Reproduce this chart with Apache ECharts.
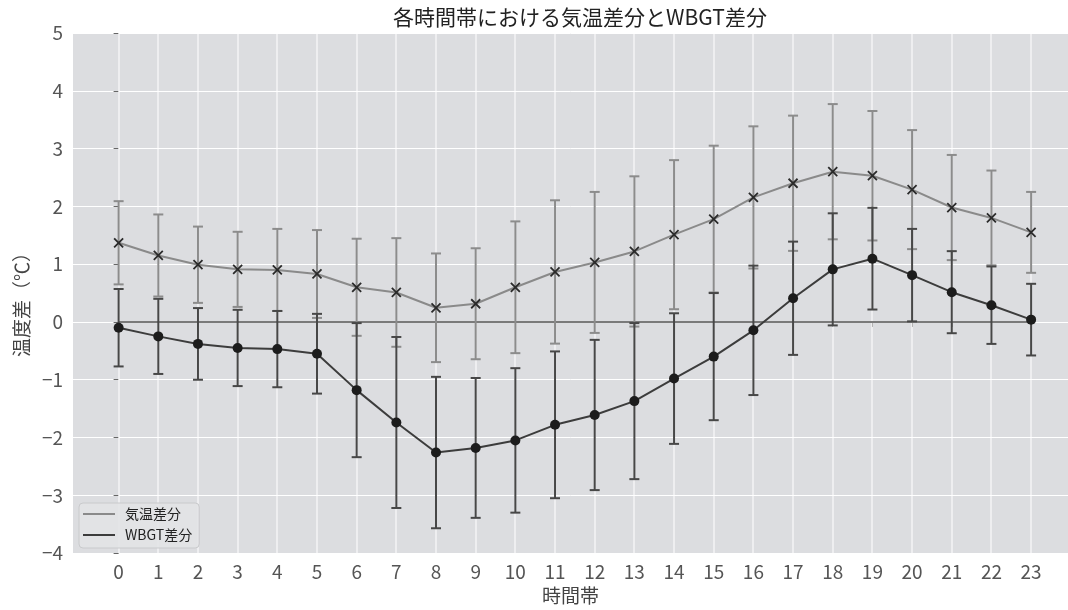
<!DOCTYPE html>
<html>
<head>
<meta charset="utf-8">
<script src="https://cdn.jsdelivr.net/npm/echarts@6/dist/echarts.min.js"></script>
<style>
  html, body { margin: 0; padding: 0; background: #ffffff; }
  #chart { width: 1068px; height: 610px; }
</style>
</head>
<body>
<div id="chart"></div>
<script>
// Hourly mean differences and their standard deviations
const hours = [0, 1, 2, 3, 4, 5, 6, 7, 8, 9, 10, 11, 12, 13, 14, 15, 16, 17, 18, 19, 20, 21, 22, 23];
const airMean = [1.37, 1.15, 0.99, 0.91, 0.90, 0.83, 0.60, 0.51, 0.245, 0.315, 0.60, 0.865, 1.03, 1.22, 1.51, 1.78, 2.155, 2.40, 2.60, 2.53, 2.29, 1.98, 1.80, 1.55];
const airSd = [0.72, 0.71, 0.66, 0.65, 0.71, 0.76, 0.84, 0.94, 0.94, 0.96, 1.14, 1.24, 1.22, 1.30, 1.29, 1.27, 1.23, 1.17, 1.17, 1.12, 1.03, 0.91, 0.82, 0.70];
const wbgtMean = [-0.10, -0.25, -0.38, -0.45, -0.47, -0.55, -1.18, -1.74, -2.26, -2.18, -2.05, -1.78, -1.61, -1.37, -0.98, -0.60, -0.145, 0.41, 0.91, 1.095, 0.81, 0.515, 0.29, 0.04];
const wbgtSd = [0.67, 0.65, 0.62, 0.66, 0.66, 0.69, 1.16, 1.48, 1.31, 1.21, 1.25, 1.27, 1.30, 1.35, 1.13, 1.10, 1.12, 0.98, 0.97, 0.88, 0.80, 0.71, 0.67, 0.62];
const yTicks = [-4, -3, -2, -1, 0, 1, 2, 3, 4, 5];

const FONT = '"Noto Sans CJK JP", "Noto Sans", sans-serif';

const chart = echarts.init(document.getElementById('chart'), null, { renderer: 'canvas' });

function errorBars(means, sds) {
  return hours.map((h, i) => [h, means[i] - sds[i], means[i] + sds[i]]);
}

// stem plus two caps, drawn as thin filled rectangles
function errorBarRenderer(color) {
  return function (params, api) {
    const x = api.value(0);
    const lo = api.coord([x, api.value(1)]);
    const hi = api.coord([x, api.value(2)]);
    const cap = 5;
    const w = 2;
    const box = (rx, ry, rw, rh) => ({
      type: 'rect',
      shape: { x: rx, y: ry, width: rw, height: rh },
      style: { fill: color, stroke: null }
    });
    return {
      type: 'group',
      children: [
        box(lo[0] - w / 2, hi[1], w, lo[1] - hi[1]),
        box(lo[0] - cap, lo[1] - w / 2, cap * 2, w),
        box(hi[0] - cap, hi[1] - w / 2, cap * 2, w)
      ]
    };
  };
}

// white vertical grid line at each hour, spanning the plot height
function hourGridRenderer(params, api) {
  const cs = params.coordSys;
  const px = api.coord([api.value(0), 0])[0];
  return {
    type: 'rect',
    shape: { x: Math.round(px) - 0.5, y: cs.y, width: 1, height: cs.height },
    style: { fill: '#ffffff', stroke: null }
  };
}

const airColor = '#8a8a8a';
const wbgtColor = '#3c3c3c';

chart.setOption({
  animation: false,
  backgroundColor: '#ffffff',
  title: {
    text: '各時間帯における気温差分とWBGT差分',
    left: 575,
    textAlign: 'center',
    top: 2,
    textStyle: { fontFamily: FONT, fontSize: 21, fontWeight: 'normal', color: '#222' }
  },
  grid: {
    left: 73, right: 0, top: 33, bottom: 54,
    show: true, backgroundColor: '#dcdde0', borderWidth: 0
  },
  legend: {
    left: 79, top: 503,
    orient: 'vertical',
    data: [
      { name: '気温差分', icon: 'rect', itemStyle: { color: airColor, borderWidth: 0 } },
      { name: 'WBGT差分', icon: 'rect', itemStyle: { color: wbgtColor, borderWidth: 0 } }
    ],
    itemWidth: 32, itemHeight: 2, itemGap: 7,
    padding: [4, 7, 6, 4],
    backgroundColor: 'rgba(226,227,229,0.9)',
    borderColor: '#c9cacc', borderWidth: 1, borderRadius: 4,
    textStyle: { fontFamily: FONT, fontSize: 14, color: '#222', lineHeight: 14, padding: [0, 0, 0, 5] }
  },
  xAxis: {
    type: 'value',
    min: -1.15, max: 23.93,
    name: '時間帯',
    nameLocation: 'middle',
    nameGap: 30,
    nameTextStyle: { fontFamily: FONT, fontSize: 19, color: '#444' },
    axisLine: { show: false },
    splitLine: { show: false },
    axisTick: { show: true, customValues: hours, length: 5, lineStyle: { color: '#666', width: 1 } },
    axisLabel: { customValues: hours, fontFamily: FONT, fontSize: 19, color: '#555', margin: 9 }
  },
  yAxis: {
    type: 'value',
    min: -4, max: 5, interval: 1,
    name: '温度差（℃）',
    nameLocation: 'middle',
    nameGap: 41,
    nameTextStyle: { fontFamily: FONT, fontSize: 19, color: '#444', padding: [0, 14, 0, 0] },
    axisLine: { show: false },
    axisTick: { show: true, length: 5, lineStyle: { color: '#666', width: 1 } },
    axisLabel: {
      fontFamily: FONT, fontSize: 19, color: '#555', margin: 10,
      formatter: v => (yTicks.includes(v) ? String(v).replace('-', '\u2212') : '')
    },
    splitLine: { show: true, lineStyle: { color: '#ffffff', width: 1 } }
  },
  series: [
    {
      name: 'hourGrid',
      type: 'custom',
      z: 1,
      silent: true,
      renderItem: hourGridRenderer,
      data: hours.map(h => [h])
    },
    {
      // zero reference line
      name: 'zero',
      type: 'line',
      z: 2,
      silent: true,
      data: [[0, 0], [23, 0]],
      symbol: 'none',
      lineStyle: { color: '#7a7a7a', width: 2 }
    },
    {
      name: 'airErr',
      type: 'custom',
      z: 3,
      silent: true,
      renderItem: errorBarRenderer('#8c8c8c'),
      data: errorBars(airMean, airSd)
    },
    {
      name: '気温差分',
      type: 'line',
      z: 4,
      data: hours.map((h, i) => [h, airMean[i]]),
      color: airColor,
      lineStyle: { color: airColor, width: 2 },
      symbol: 'path://M0,0L10,10M0,10L10,0',
      symbolSize: 9,
      itemStyle: { color: 'none', borderColor: '#2a2a2a', borderWidth: 1.8 }
    },
    {
      name: 'wbgtErr',
      type: 'custom',
      z: 5,
      silent: true,
      renderItem: errorBarRenderer('#474747'),
      data: errorBars(wbgtMean, wbgtSd)
    },
    {
      name: 'WBGT差分',
      type: 'line',
      z: 6,
      data: hours.map((h, i) => [h, wbgtMean[i]]),
      color: wbgtColor,
      lineStyle: { color: wbgtColor, width: 2 },
      symbol: 'circle',
      symbolSize: 10,
      itemStyle: { color: '#1c1c1c', borderWidth: 0 }
    }
  ]
});
</script>
</body>
</html>
